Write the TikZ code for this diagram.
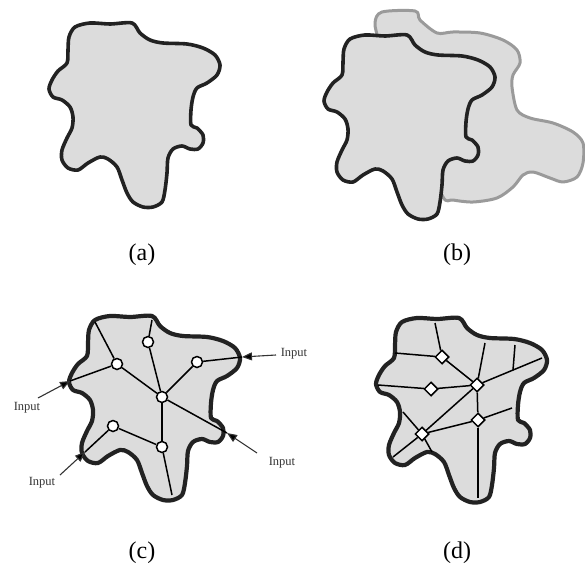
\documentclass[tikz,border=0pt]{standalone}
\usepackage{fontspec}
\setmainfont{Liberation Serif}
\usetikzlibrary{shapes.geometric,arrows.meta}
\definecolor{blobfill}{HTML}{DCDCDC}
\definecolor{blobline}{HTML}{222222}
\definecolor{ghostline}{HTML}{9A9A9A}
\tikzset{
  blob/.style={draw=blobline,fill=blobfill,line width=3.6pt,line join=round},
  blobthick/.style={draw=blobline,fill=blobfill,line width=4.2pt,line join=round},
  ghost/.style={draw=ghostline,fill=blobfill,line width=3pt,line join=round},
  net/.style={draw=black,line width=1.5pt},
  circnode/.style={circle,draw=black,fill=white,line width=1.5pt,minimum size=11pt,inner sep=0pt},
  dianode/.style={diamond,aspect=1,draw=black,fill=white,line width=1.5pt,minimum size=14pt,inner sep=0pt},
  inarrow/.style={draw=black!80,line width=1.1pt,-{Triangle[length=10pt,width=8pt,fill=black]}},
  inlabel/.style={font=\fontsize{12.5}{14}\selectfont,text=black!80,inner sep=0pt},
  caption/.style={font=\fontsize{24}{28}\selectfont,inner sep=0pt}
}
\newcommand{\blobshape}[2]{%
  \path[#1,shift={#2}] plot[smooth cycle,tension=0.5] coordinates {
  (75,27) (90,23) (110,24) (132,23) (140,33) (150,40) (163,43) (187,44) (203,48) (215,55) (220,65) (217,75) (207,83) (197,88) (193,97) (191,110) (191,125) (197,128) (203,135) (203,143) (198,149) (190,149) (182,146) (173,149) (168,158) (167,173) (165,190) (162,202) (153,207) (143,207) (133,202) (127,193) (122,180) (117,167) (108,159) (100,157) (88,163) (78,170) (68,168) (62,160) (62,150) (67,138) (72,128) (73,117) (70,107) (62,100) (53,97) (49,89) (52,80) (58,71) (67,63) (68,50) (69,37)};}
\begin{document}
\begin{tikzpicture}[x=1pt,y=-1pt]
\useasboundingbox (0,0) rectangle (585,572);
% (a)
\blobshape{blob}{(0,0)}
\node[caption] (capa) at (142,255) {(a)};
% (b)
\path[ghost] plot[smooth cycle,tension=0.5] coordinates {
 (375,23) (382,12) (415,11) (420,20) (437,33) (453,32) (480,33) (503,40) (517,50) (520,63) (513,75) (512,87) (517,110) (530,118) (553,123) (573,132) (583,143) (583,163) (577,177) (563,182) (550,178) (533,172) (523,175) (513,187) (497,198) (473,202) (453,200) (443,197) (425,150) (400,80) (380,42)};
\blobshape{blob}{(275,12)}
\node[caption] (capb) at (457,255) {(b)};
% (c)
\blobshape{blobthick}{(20,293)}
\node[circnode] (n1) at (148,342) {};
\node[circnode] (n2) at (117,364) {};
\node[circnode] (n3) at (197,362) {};
\node[circnode] (n4) at (162,397) {};
\node[circnode] (n5) at (113,426) {};
\node[circnode] (n6) at (162,447) {};
\coordinate (c1) at (95,322);
\coordinate (c2) at (152,320);
\coordinate (c3) at (227,433);
\coordinate (c4) at (242,357);
\coordinate (c5) at (70,381);
\coordinate (c6) at (172,495);
\coordinate (c7) at (85,452);
\draw[net] (c1) -- (n2);
\draw[net] (c2) -- (n1);
\draw[net] (n1) -- (n4);
\draw[net] (n2) -- (n4);
\draw[net] (n4) -- (c3);
\draw[net] (n3) -- (n4);
\draw[net] (n3) -- (c4);
\draw[net] (c5) -- (n2);
\draw[net] (n4) -- (n6);
\draw[net] (n6) -- (c6);
\draw[net] (n5) -- (n6);
\draw[net] (n5) -- (c7);
% inputs
\node[inlabel] (inR) at (294,354) {Input};
\node[inlabel] (inL) at (27,408) {Input};
\node[inlabel] (inLL) at (42,483) {Input};
\node[inlabel] (inLR) at (282,463) {Input};
\coordinate (aR) at (276,355);
\coordinate (aL) at (38,398);
\coordinate (aLL) at (60,475);
\coordinate (aLR) at (257,453);
\draw[inarrow] (aR) -- (c4);
\draw[inarrow] (aL) -- (c5);
\draw[inarrow] (aLL) -- (c7);
\draw[inarrow] (aLR) -- (c3);
\node[caption] (capc) at (142,553) {(c)};
% (d)
\blobshape{blobthick}{(327,295)}
\coordinate (d1) at (435,323);
\coordinate (d2) at (395,353);
\coordinate (d3) at (485,343);
\coordinate (d4) at (515,345);
\coordinate (d5) at (513,370);
\coordinate (d6) at (542,358);
\coordinate (d7) at (378,385);
\coordinate (d8) at (393,457);
\coordinate (d9) at (512,408);
\coordinate (d10) at (478,498);
\coordinate (d11) at (403,412);
\coordinate (d12) at (432,452);
\node[dianode] (m1) at (442,357) {};
\node[dianode] (m2) at (431,389) {};
\node[dianode] (m3) at (477,385) {};
\node[dianode] (m4) at (478,420) {};
\node[dianode] (m5) at (422,434) {};
\draw[net] (d1) -- (m1);
\draw[net] (d2) -- (m1);
\draw[net] (m1) -- (m3);
\draw[net] (m3) -- (d3);
\draw[net] (d4) -- (d5);
\draw[net] (m3) -- (d6);
\draw[net] (d7) -- (m2);
\draw[net] (m2) -- (m3);
\draw[net] (m3) -- (m5);
\draw[net] (m5) -- (d8);
\draw[net] (m3) -- (m4);
\draw[net] (m4) -- (d9);
\draw[net] (m4) -- (m5);
\draw[net] (m4) -- (d10);
\draw[net] (d11) -- (m5);
\draw[net] (m5) -- (d12);
\node[caption] (capd) at (457,553) {(d)};
\end{tikzpicture}
\end{document}
